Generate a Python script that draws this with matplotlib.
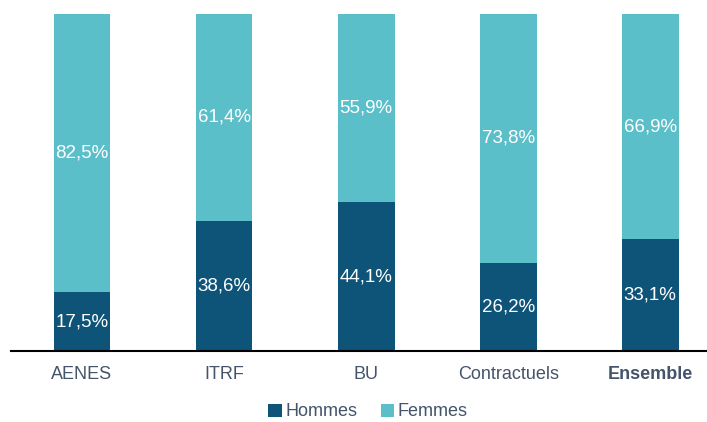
import matplotlib.pyplot as plt
import numpy as np

plt.rcParams['font.family'] = ['Liberation Sans', 'DejaVu Sans']

categories = ['AENES', 'ITRF', 'BU', 'Contractuels', 'Ensemble']
hommes = [17.5, 38.6, 44.1, 26.2, 33.1]
femmes = [82.5, 61.4, 55.9, 73.8, 66.9]

dark = '#0E5478'
light = '#5BBFCA'
text_col = '#44546A'

fig = plt.figure(figsize=(7.07, 4.22), dpi=100)
ax = fig.add_axes([11 / 707, 71 / 422, 696 / 707, 337 / 422])

xs = np.arange(len(categories))
width = 0.4
ax.bar(xs, hommes, width, color=dark, label='Hommes')
ax.bar(xs, femmes, width, bottom=hommes, color=light, label='Femmes')

for x, h, f in zip(xs, hommes, femmes):
    ax.text(x, h / 2, f'{h:.1f}%'.replace('.', ','), ha='center', va='center',
            color='white', fontsize=13.5)
    ax.text(x, h + f / 2, f'{f:.1f}%'.replace('.', ','), ha='center', va='center',
            color='white', fontsize=13.5)

ax.set_xlim(-0.5, 4.40)
ax.set_ylim(0, 100)
ax.set_yticks([])
ax.set_xticks(xs)
ax.set_xticklabels(categories, fontsize=13, color=text_col)
ax.get_xticklabels()[-1].set_fontweight('bold')
ax.tick_params(axis='x', length=0, pad=11)
for s in ['top', 'right', 'left']:
    ax.spines[s].set_visible(False)
ax.spines['bottom'].set_color('black')
ax.spines['bottom'].set_linewidth(1.5)

leg = fig.legend(loc='center', bbox_to_anchor=(368 / 707, 1 - 412 / 422), ncol=2,
                 frameon=False, fontsize=13, handlelength=0.75, handleheight=0.75,
                 handletextpad=0.2, columnspacing=1.3)
for t in leg.get_texts():
    t.set_color(text_col)

fig.savefig('out.png', dpi=100)
